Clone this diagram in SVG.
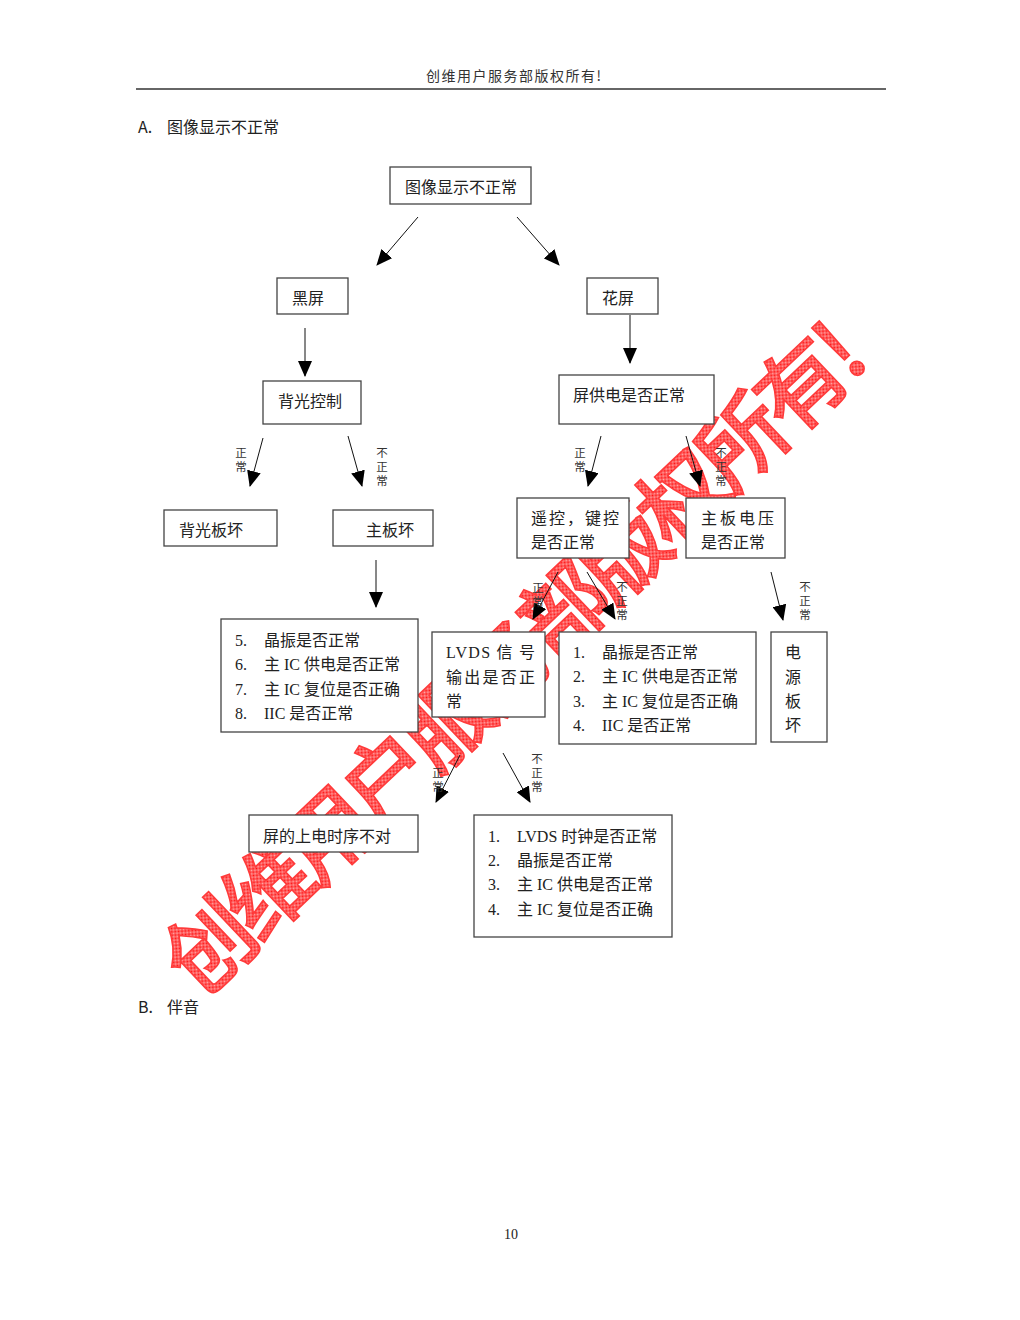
<svg xmlns="http://www.w3.org/2000/svg" width="1020" height="1320" viewBox="0 0 1020 1320">
<defs>
<style>
.t{font-family:"Liberation Serif","Noto Sans CJK SC",serif;font-size:16px;fill:#222}
.h{font-family:"Noto Sans CJK SC",sans-serif;font-size:16px;fill:#222}
.s{font-family:"Noto Sans CJK SC",sans-serif;font-size:11.5px;fill:#333}
.b{fill:#fff;stroke:#444;stroke-width:1.3}
.c{stroke:#111;stroke-width:1;fill:none}
</style>
<marker id="ah" markerUnits="userSpaceOnUse" markerWidth="16" markerHeight="14" refX="15" refY="7" orient="auto">
<path d="M0,0 L16,7 L0,14 z" fill="#000"/>
</marker>
<pattern id="dots" width="2" height="2" patternUnits="userSpaceOnUse">
<rect width="2" height="2" fill="#ffa8a8"/>
<rect x="0" y="0" width="1" height="1" fill="#ff1010"/>
<rect x="1" y="1" width="1" height="1" fill="#ff1010"/>
</pattern>
</defs>
<rect width="1020" height="1320" fill="#fff"/>

<!-- header -->
<text x="426" y="81" style="font-family:'Noto Sans CJK SC',sans-serif;font-size:14px;letter-spacing:1.5px;fill:#333">创维用户服务部版权所有!</text>
<line x1="136" y1="89" x2="886" y2="89" stroke="#333" stroke-width="1.5"/>
<text x="138" y="133" class="h">A.</text>
<text x="167" y="133" class="h">图像显示不正常</text>
<text x="138" y="1013" class="h">B.</text>
<text x="167" y="1013" class="h">伴音</text>
<text x="511" y="1239" class="t" text-anchor="middle" style="font-size:14px">10</text>

<!-- watermark -->
<g id="watermark">
<text x="200" y="1000" transform="rotate(-43.5 200 1000)" style="font-family:'Noto Sans CJK SC',sans-serif;font-size:88px;font-weight:500;letter-spacing:-6.5px" fill="url(#dots)" stroke="#ff3a3a" stroke-width="1.6">创维用户服务部版权所有!</text>
</g>

<!-- connectors -->
<g id="connectors">
<line class="c" x1="418" y1="217" x2="377" y2="265" marker-end="url(#ah)"/>
<line class="c" x1="517" y1="217" x2="559" y2="265" marker-end="url(#ah)"/>
<line class="c" x1="305" y1="328" x2="305" y2="376" marker-end="url(#ah)"/>
<line class="c" x1="630" y1="315" x2="630" y2="363" marker-end="url(#ah)" stroke="#777"/>
<line class="c" x1="263" y1="438" x2="250" y2="486" marker-end="url(#ah)"/>
<line class="c" x1="348" y1="436" x2="362" y2="486" marker-end="url(#ah)"/>
<line class="c" x1="601" y1="436" x2="588" y2="486" marker-end="url(#ah)"/>
<line class="c" x1="686" y1="436" x2="700" y2="486" marker-end="url(#ah)"/>
<line class="c" x1="376" y1="560" x2="376" y2="607" marker-end="url(#ah)"/>
<line class="c" x1="558" y1="572" x2="533" y2="619" marker-end="url(#ah)"/>
<line class="c" x1="587" y1="572" x2="615" y2="619" marker-end="url(#ah)"/>
<line class="c" x1="771" y1="572" x2="783" y2="620" marker-end="url(#ah)"/>
<line class="c" x1="460" y1="755" x2="436" y2="802" marker-end="url(#ah)"/>
<line class="c" x1="503" y1="753" x2="530" y2="802" marker-end="url(#ah)"/>
<text class="s" text-anchor="middle"><tspan x="241" y="457">正</tspan><tspan x="241" y="471">常</tspan></text>
<text class="s" text-anchor="middle"><tspan x="382" y="457">不</tspan><tspan x="382" y="471">正</tspan><tspan x="382" y="485">常</tspan></text>
<text class="s" text-anchor="middle"><tspan x="580" y="457">正</tspan><tspan x="580" y="471">常</tspan></text>
<text class="s" text-anchor="middle"><tspan x="721" y="457">不</tspan><tspan x="721" y="471">正</tspan><tspan x="721" y="485">常</tspan></text>
<text class="s" text-anchor="middle"><tspan x="538" y="592">正</tspan><tspan x="538" y="606">常</tspan></text>
<text class="s" text-anchor="middle"><tspan x="622" y="591">不</tspan><tspan x="622" y="605">正</tspan><tspan x="622" y="619">常</tspan></text>
<text class="s" text-anchor="middle"><tspan x="805" y="591">不</tspan><tspan x="805" y="605">正</tspan><tspan x="805" y="619">常</tspan></text>
<text class="s" text-anchor="middle"><tspan x="438" y="777">正</tspan><tspan x="438" y="791">常</tspan></text>
<text class="s" text-anchor="middle"><tspan x="537" y="763">不</tspan><tspan x="537" y="777">正</tspan><tspan x="537" y="791">常</tspan></text>
</g>

<!-- nodes -->
<g id="n-root"><rect class="b" x="390" y="167" width="141" height="37"/><text class="t" x="405" y="193">图像显示不正常</text></g>
<g id="n-black"><rect class="b" x="277" y="278" width="71" height="36"/><text class="t" x="292" y="304">黑屏</text></g>
<g id="n-flower"><rect class="b" x="587" y="278" width="71" height="36"/><text class="t" x="602" y="304">花屏</text></g>
<g id="n-backlight"><rect class="b" x="263" y="381" width="98" height="43"/><text class="t" x="278" y="407">背光控制</text></g>
<g id="n-power"><rect class="b" x="559" y="375" width="155" height="49"/><text class="t" x="573" y="401">屏供电是否正常</text></g>
<g id="n-blboard"><rect class="b" x="164" y="510" width="113" height="36"/><text class="t" x="179" y="536">背光板坏</text></g>
<g id="n-mainbad"><rect class="b" x="333" y="510" width="100" height="36"/><text class="t" x="366" y="536">主板坏</text></g>
<g id="n-remote"><rect class="b" x="517" y="498" width="112" height="60"/><text class="t" x="531" y="524" textLength="88" lengthAdjust="spacing">遥控，键控</text><text class="t" x="531" y="548">是否正常</text></g>
<g id="n-mainv"><rect class="b" x="686" y="498" width="99" height="60"/><text class="t" x="701" y="524" textLength="73" lengthAdjust="spacing">主板电压</text><text class="t" x="701" y="548">是否正常</text></g>
<g id="n-list1"><rect class="b" x="221" y="619" width="197" height="113"/>
<text class="t"><tspan x="235" y="646">5.</tspan><tspan x="264" y="646">晶振是否正常</tspan><tspan x="235" y="670">6.</tspan><tspan x="264" y="670">主 IC 供电是否正常</tspan><tspan x="235" y="695">7.</tspan><tspan x="264" y="695">主 IC 复位是否正确</tspan><tspan x="235" y="719">8.</tspan><tspan x="264" y="719">IIC 是否正常</tspan></text></g>
<g id="n-lvds"><rect class="b" x="432" y="632" width="113" height="85"/>
<text class="t" x="446" y="658" textLength="89" lengthAdjust="spacing">LVDS 信 号</text><text class="t" x="446" y="683" textLength="89" lengthAdjust="spacing">输出是否正</text><text class="t" x="446" y="707">常</text></g>
<g id="n-list2"><rect class="b" x="559" y="632" width="197" height="112"/>
<text class="t"><tspan x="573" y="658">1.</tspan><tspan x="602" y="658">晶振是否正常</tspan><tspan x="573" y="682">2.</tspan><tspan x="602" y="682">主 IC 供电是否正常</tspan><tspan x="573" y="707">3.</tspan><tspan x="602" y="707">主 IC 复位是否正确</tspan><tspan x="573" y="731">4.</tspan><tspan x="602" y="731">IIC 是否正常</tspan></text></g>
<g id="n-psu"><rect class="b" x="771" y="632" width="56" height="110"/>
<text class="t" text-anchor="middle"><tspan x="793" y="658">电</tspan><tspan x="793" y="683">源</tspan><tspan x="793" y="707">板</tspan><tspan x="793" y="731">坏</tspan></text></g>
<g id="n-timing"><rect class="b" x="249" y="815" width="169" height="37"/><text class="t" x="263" y="842">屏的上电时序不对</text></g>
<g id="n-list3"><rect class="b" x="474" y="815" width="198" height="122"/>
<text class="t"><tspan x="488" y="842">1.</tspan><tspan x="517" y="842">LVDS 时钟是否正常</tspan><tspan x="488" y="866">2.</tspan><tspan x="517" y="866">晶振是否正常</tspan><tspan x="488" y="890">3.</tspan><tspan x="517" y="890">主 IC 供电是否正常</tspan><tspan x="488" y="915">4.</tspan><tspan x="517" y="915">主 IC 复位是否正确</tspan></text></g>
</svg>
